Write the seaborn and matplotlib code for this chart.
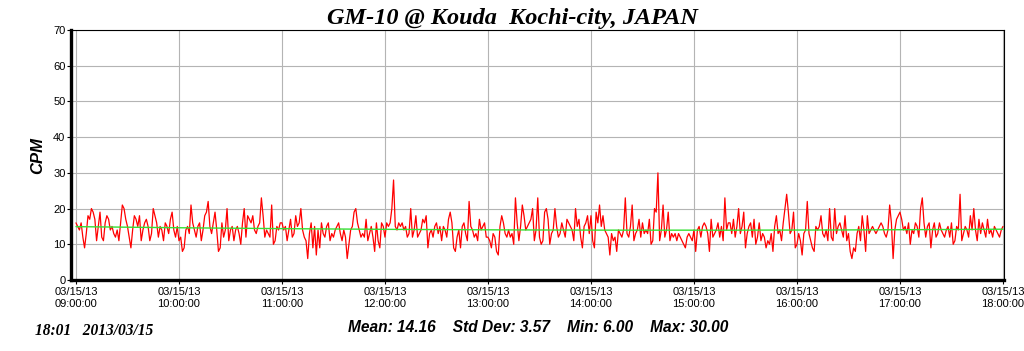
import matplotlib
matplotlib.use('Agg')
import matplotlib.pyplot as plt
import numpy as np
import pandas as pd
import seaborn as sns

# counts per minute, 09:00 -> 18:00
h09 = [16,15,14,16,12,9,13,18,17,20,19,17,11,15,19,12,11,16,18,17,14,15,13,12,14,11,16,21,20,17,
       15,12,9,14,18,17,15,18,11,14,16,17,15,11,13,20,18,16,12,15,14,11,16,15,13,17,19,14,12,15]
h10 = [11,12,8,9,14,15,13,21,16,14,12,15,16,11,14,18,19,22,15,13,16,19,14,8,9,16,12,14,20,11,
       14,15,11,14,15,13,10,16,20,12,18,17,16,18,14,13,15,16,23,18,12,14,13,12,21,10,11,15,14,16]
h11 = [16,14,15,11,14,17,12,13,18,15,16,20,14,12,11,6,13,16,9,15,7,14,9,16,13,12,15,16,11,13,
       12,14,15,16,13,11,14,12,6,10,14,15,19,20,16,14,12,13,12,17,11,13,15,12,8,16,11,9,16,15]
h12 = [12,16,15,16,20,28,15,14,16,15,16,14,15,12,13,20,12,14,18,12,13,14,17,16,18,9,13,14,12,15,
       16,13,15,11,15,14,12,17,19,16,9,8,12,14,9,15,16,13,11,22,15,14,12,13,11,17,14,15,16,12]
h13 = [12,11,9,13,12,8,7,15,18,16,13,12,14,12,13,10,23,16,11,15,21,18,14,15,16,17,20,11,14,23,
       12,10,11,19,20,17,10,13,14,20,15,12,13,16,14,12,17,16,15,14,11,20,15,17,12,9,15,16,18,13]
h14 = [18,11,9,19,16,21,15,18,14,13,12,7,13,11,12,8,14,13,12,14,23,13,12,15,21,11,13,14,17,12,
       16,13,14,13,17,10,11,20,19,30,11,14,21,12,14,19,11,13,12,13,11,13,12,11,10,9,12,13,12,11]
h15 = [14,8,14,15,12,15,16,15,13,8,17,12,13,14,16,12,15,11,23,14,16,16,13,17,12,15,20,13,15,19,
       9,13,15,16,12,17,10,12,16,11,13,12,9,11,10,13,8,15,18,13,14,11,16,20,24,19,13,14,19,9]
h16 = [10,13,11,7,13,14,22,13,11,9,8,15,14,15,18,13,12,14,11,20,12,11,20,13,15,16,14,12,18,11,
       13,8,6,9,8,13,15,11,18,14,8,18,13,14,15,14,13,14,15,16,15,13,12,14,21,16,6,14,17,18]
h17 = [19,17,14,15,13,16,10,14,13,16,15,12,20,23,16,12,15,16,9,14,16,12,13,16,14,13,12,14,15,12,
       16,10,11,15,14,24,11,13,15,14,12,18,14,20,14,11,17,13,16,14,12,17,13,14,12,15,14,13,12,14,15]

cpm = h09 + h10 + h11 + h12 + h13 + h14 + h15 + h16 + h17
minutes = np.arange(len(cpm))

tick_minutes = [0, 60, 120, 180, 240, 300, 360, 420, 480, 540]
tick_labels = ['03/15/13\n%02d:00:00' % h for h in range(9, 19)]

title = 'GM-10 @ Kouda  Kochi-city, JAPAN'
stats = 'Mean: 14.16    Std Dev: 3.57    Min: 6.00    Max: 30.00'
stamp = '18:01   2013/03/15'

df = pd.DataFrame({'minute': minutes, 'cpm': cpm})
# smooth trend (green)
coef = np.polyfit(df['minute'], df['cpm'], 2)
df['trend'] = np.polyval(coef, df['minute'])

sns.set_style('white')
plt.rcParams['font.family'] = ['Liberation Sans', 'DejaVu Sans']
plt.rcParams['text.color'] = 'black'
plt.rcParams['axes.labelcolor'] = 'black'
plt.rcParams['xtick.color'] = 'black'
plt.rcParams['ytick.color'] = 'black'

fig = plt.figure(figsize=(10.24, 3.51), dpi=100)
ax = fig.add_axes([71 / 1024, 71 / 351, 933 / 1024, 250 / 351])

sns.lineplot(data=df, x='minute', y='cpm', color='#ff0000', lw=0.9, ax=ax)
sns.lineplot(data=df, x='minute', y='trend', color='#33e033', lw=1.0, ax=ax)

ax.set_xlim(-2.9, 540.6)
ax.set_ylim(0, 70)
ax.set_xticks(tick_minutes)
ax.set_xticklabels(tick_labels, fontsize=8, linespacing=1.2)
ax.set_yticks(range(0, 71, 10))
ax.tick_params(axis='y', labelsize=8, length=3, width=0.8, pad=1, direction='out', left=True)
ax.tick_params(axis='x', length=3, width=0.8, pad=2, direction='out', bottom=True)
ax.grid(True, color='#b4b4b4', lw=0.8)
ax.set_axisbelow(True)
for side in ['top', 'right']:
    ax.spines[side].set_linewidth(0.8)
    ax.spines[side].set_color('black')
for side in ['left', 'bottom']:
    ax.spines[side].set_linewidth(2.4)
    ax.spines[side].set_color('black')

ax.set_xlabel('')
ax.set_ylabel('CPM', fontsize=12, fontweight='bold', fontstyle='italic', labelpad=6)

fig.text(0.5, 0.946, title, ha='center', va='center', fontsize=17.5, fontweight='bold',
         fontstyle='italic', family='Liberation Serif')
fig.text(0.526, 0.068, stats, ha='center', va='center', fontsize=11.2, fontweight='bold',
         fontstyle='italic')
fig.text(0.034, 0.058, stamp, ha='left', va='center', fontsize=11.2, fontweight='bold',
         fontstyle='italic', family='Liberation Serif')

fig.savefig('out.png', dpi=100)
